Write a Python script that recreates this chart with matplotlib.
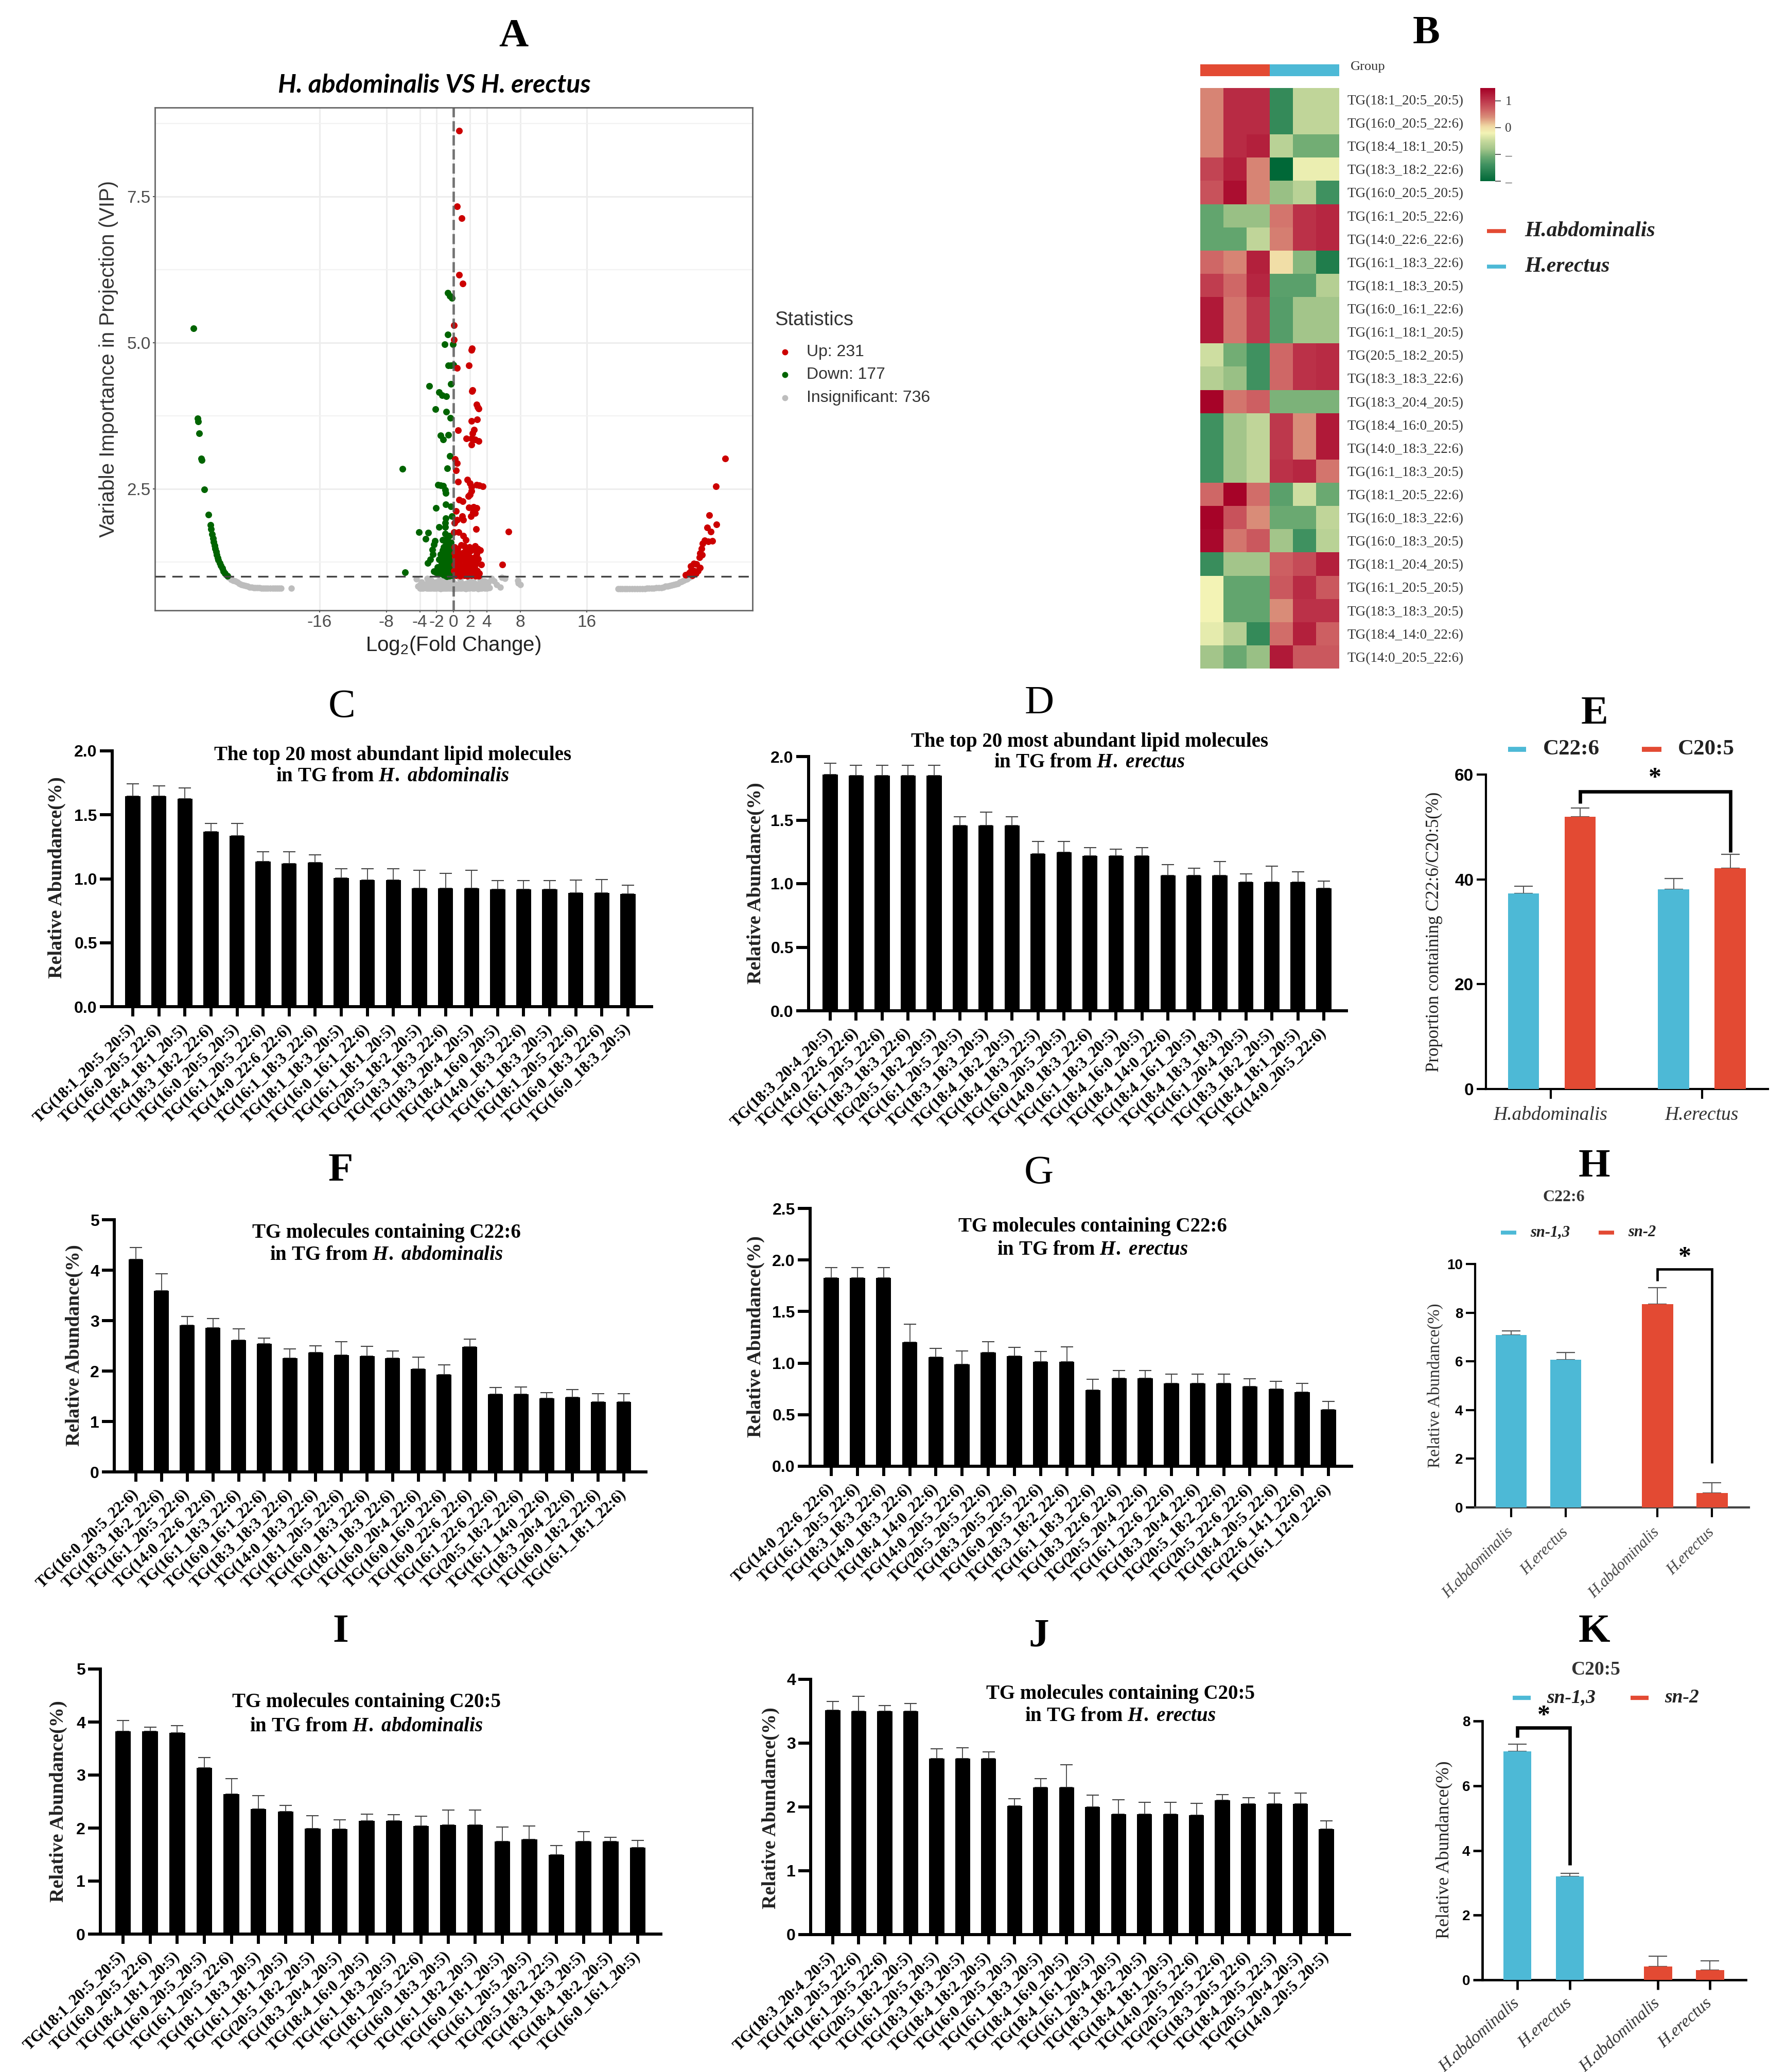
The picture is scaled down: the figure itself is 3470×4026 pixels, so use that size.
import numpy as np
import matplotlib
matplotlib.use("Agg")
import matplotlib.pyplot as plt
from matplotlib.colors import LinearSegmentedColormap
from matplotlib.lines import Line2D

W, H = 3470, 4026
SERIF = "Liberation Serif"
SANS = "Liberation Sans"
BLUE = "#4db9d6"
RED = "#e34a33"

plt.rcParams["font.family"] = SERIF
plt.rcParams["mathtext.fontset"] = "custom"
plt.rcParams["mathtext.default"] = "regular"
plt.rcParams["mathtext.it"] = "Liberation Serif:italic:bold"
plt.rcParams["mathtext.rm"] = "Liberation Serif:bold"

# ---- panel A: (log2 fold change, VIP)
down_pts = [
    (-31.1, 5.24), (-30.6, 3.70), (-30.5, 3.65), (-30.4, 3.45), (-30.15, 3.02), (-30.1, 2.99), (-29.8, 2.49),
    (-29.3, 2.06), (-29.05, 1.88), (-29.0, 1.81), (-28.85, 1.72), (-28.75, 1.65), (-28.65, 1.59), (-28.55, 1.53),
    (-28.5, 1.48), (-28.4, 1.42), (-28.3, 1.37), (-28.2, 1.32), (-28.1, 1.28), (-27.95, 1.23), (-27.8, 1.19),
    (-27.65, 1.14), (-27.5, 1.09), (-27.3, 1.05), (-27.0, 1.01),
    (-0.64, 5.85), (-0.43, 5.80), (-0.18, 5.76), (-0.64, 5.14), (-1.03, 4.97), (-0.04, 4.97), (-0.62, 4.61),
    (0.04, 4.62), (-0.27, 4.61), (-2.87, 4.26), (-0.27, 4.29), (-1.70, 4.15), (-1.33, 4.10), (-0.82, 4.08),
    (-2.11, 3.86), (-0.82, 3.82), (-0.33, 3.71), (-1.50, 3.41), (-0.57, 3.42), (-1.23, 3.34), (-0.39, 3.06),
    (-6.09, 2.84), (-0.72, 2.85), (-1.80, 2.57), (-1.50, 2.56), (-1.19, 2.55), (-0.94, 2.48), (-0.92, 2.43),
    (-2.09, 2.17), (-0.92, 2.23), (-0.27, 2.20), (-0.16, 2.03), (-0.88, 2.00), (-0.98, 1.92), (-0.94, 1.85),
    (-1.72, 1.85), (-4.12, 1.76), (-3.00, 1.75), (-3.32, 1.64), (-0.98, 1.73), (-0.47, 1.70), (-1.29, 1.63),
    (-2.17, 1.61), (-0.68, 1.58), (-2.32, 1.55), (-0.88, 1.54), (-0.30, 1.58), (-2.52, 1.46), (-2.42, 1.38),
    (-1.50, 1.38), (-0.98, 1.43), (-0.47, 1.41), (-1.30, 1.45), (-0.20, 1.47), (-2.73, 1.29), (-3.04, 1.23),
    (-1.70, 1.29), (-1.09, 1.31), (-0.47, 1.29), (-5.80, 1.07), (-2.32, 1.09), (-1.70, 1.11), (-1.90, 1.16),
    (-1.29, 1.18), (-0.68, 1.18), (-0.27, 1.13), (-0.88, 1.07), (-1.50, 1.05), (-0.27, 1.05), (-0.78, 1.00),
    (-1.10, 1.25), (-0.75, 1.27), (-0.15, 1.30), (-0.55, 1.12), (-1.05, 1.10), (-1.40, 1.22), (-0.35, 1.22),
    (-0.12, 1.18), (-2.05, 1.07), (-0.60, 1.05), (-1.15, 1.03), (-0.10, 1.02), (-0.15, 1.38), (-0.60, 1.36),
    (-1.25, 1.35), (-0.85, 1.34), (-0.30, 1.35), (-1.55, 1.30), (-1.30, 1.28), (-0.90, 1.21), (-0.20, 1.25),
    (-1.60, 1.17), (-1.10, 1.16), (-0.45, 1.16), (-0.80, 1.13), (-1.35, 1.09), (-0.40, 1.08), (-0.15, 1.10),
    (-1.75, 1.05), (-0.95, 1.02), (-0.45, 1.01), (-0.65, 1.47), (-1.15, 1.50), (-0.40, 1.52), (-0.70, 1.66),
]
up_pts = [
    (0.69, 8.62), (0.48, 7.33), (1.03, 7.13), (0.69, 6.16), (1.10, 6.01), (0.09, 5.30), (0.09, 5.05), (2.19, 4.87),
    (2.22, 4.90), (1.89, 4.61), (0.45, 4.57), (2.24, 4.17), (2.28, 4.19), (2.77, 3.94), (2.90, 3.90), (3.02, 3.87),
    (2.19, 3.66), (2.85, 3.69), (0.55, 3.50), (2.50, 3.51), (2.30, 3.45), (1.58, 3.36), (2.19, 3.36), (3.02, 3.32),
    (2.60, 3.34), (2.19, 3.25), (0.18, 3.01), (0.45, 2.94), (0.31, 2.81), (0.55, 2.62), (1.68, 2.66), (1.99, 2.59),
    (2.81, 2.57), (3.53, 2.54), (3.10, 2.56), (2.19, 2.53), (2.19, 2.46), (1.99, 2.40), (1.78, 2.37), (0.70, 2.31),
    (1.11, 2.29), (1.89, 2.18), (2.40, 2.19), (2.81, 2.17), (2.36, 2.10), (2.61, 2.08), (2.09, 2.03), (0.31, 2.12),
    (1.07, 2.03), (1.17, 1.97), (0.45, 1.97), (0.14, 1.92), (2.71, 1.81), (6.58, 1.77), (0.05, 1.76), (0.66, 1.76),
    (1.17, 1.70), (1.48, 1.63), (0.96, 1.54), (1.30, 1.52), (2.61, 1.52), (2.40, 1.47), (3.22, 1.45), (2.19, 1.45),
    (1.17, 1.41), (1.68, 1.38), (2.81, 1.38), (0.35, 1.36), (0.75, 1.40), (2.00, 1.33), (2.40, 1.32), (3.00, 1.30),
    (1.10, 1.30), (0.30, 1.28), (1.60, 1.27), (0.70, 1.25), (3.32, 1.20), (5.89, 1.20), (2.70, 1.22), (2.20, 1.20),
    (1.80, 1.18), (1.35, 1.20), (0.90, 1.18), (0.40, 1.18), (0.12, 1.20), (0.10, 1.10), (0.55, 1.08), (1.05, 1.10),
    (1.50, 1.08), (1.95, 1.10), (2.40, 1.08), (2.85, 1.10), (3.10, 1.05), (0.30, 1.02), (0.80, 1.01), (1.30, 1.02),
    (1.70, 1.01), (2.20, 1.02), (2.65, 1.01), (3.05, 1.01), (0.15, 1.40), (0.12, 1.50), (1.90, 1.50), (2.90, 1.48),
    (0.50, 1.48), (1.50, 1.45), (1.95, 1.42), (0.50, 1.30), (0.85, 1.33), (1.40, 1.33), (1.85, 1.28), (2.55, 1.26),
    (0.20, 1.33), (0.60, 1.17), (1.15, 1.14), (1.60, 1.14), (2.05, 1.15), (2.55, 1.15), (0.35, 1.12), (0.80, 1.05),
    (1.25, 1.06), (1.75, 1.06), (2.25, 1.06), (2.60, 1.05), (0.50, 1.04), (1.00, 1.03), (1.50, 1.03), (2.00, 1.03),
    (32.55, 3.02), (31.4, 2.54), (30.6, 2.05), (31.5, 1.89), (30.4, 1.84), (30.8, 1.77), (30.1, 1.62), (31.0, 1.61),
    (30.5, 1.60), (29.8, 1.56), (29.7, 1.48), (29.5, 1.40), (29.75, 1.37), (29.45, 1.33), (28.8, 1.22), (29.5, 1.15),
    (29.1, 1.21), (29.3, 1.10), (28.5, 1.11), (28.2, 1.06), (27.8, 1.03), (28.8, 1.10), (28.4, 1.18), (29.0, 1.05),
    (28.6, 1.02),
]
ns_pts = [
    (-26.9, 0.98), (-26.6, 0.95), (-26.35, 0.93), (-26.1, 0.92), (-25.85, 0.90), (-25.6, 0.88), (-25.35, 0.86),
    (-25.1, 0.85), (-24.85, 0.84), (-24.6, 0.83), (-24.35, 0.82), (-24.1, 0.82), (-23.9, 0.81), (-23.7, 0.81),
    (-23.45, 0.81), (-23.2, 0.81), (-22.95, 0.80), (-22.7, 0.80), (-22.45, 0.80), (-22.2, 0.80), (-21.9, 0.80),
    (-21.6, 0.80), (-21.35, 0.80), (-21.1, 0.80), (-20.85, 0.80), (-20.6, 0.80), (-19.4, 0.80),
    (19.7, 0.79), (19.95, 0.79), (20.2, 0.79), (20.5, 0.79), (20.8, 0.79), (21.1, 0.79), (21.4, 0.79), (21.7, 0.79),
    (22.0, 0.79), (22.3, 0.79), (22.6, 0.79), (22.9, 0.79), (23.2, 0.80), (23.45, 0.80), (23.7, 0.80), (24.0, 0.80),
    (24.3, 0.81), (24.6, 0.81), (24.9, 0.81), (25.15, 0.82), (25.4, 0.83), (25.65, 0.83), (25.9, 0.84), (26.15, 0.85),
    (26.4, 0.86), (26.65, 0.87), (26.9, 0.88), (27.1, 0.90), (27.3, 0.91), (27.55, 0.93), (27.8, 0.95), (28.0, 0.96),
    (28.2, 0.98), (28.5, 1.00),
    (-4.20, 0.83), (-3.80, 0.80), (-3.80, 0.90), (-3.40, 0.84), (-3.00, 0.80), (-2.70, 0.85), (-2.40, 0.80),
    (-2.10, 0.90), (-1.80, 0.82), (-1.50, 0.79), (-1.20, 0.86), (-0.90, 0.80), (-0.60, 0.90), (-0.30, 0.82),
    (0.00, 0.79), (0.30, 0.87), (0.60, 0.80), (0.90, 0.90), (1.20, 0.82), (1.50, 0.79), (1.80, 0.87), (2.10, 0.81),
    (2.40, 0.90), (2.70, 0.82), (3.00, 0.79), (3.30, 0.86), (3.60, 0.81), (3.90, 0.84), (4.20, 0.90), (4.60, 0.97),
    (4.90, 0.92), (5.20, 0.86), (5.60, 0.82), (5.80, 0.98), (7.80, 0.89), (7.70, 0.93), (8.00, 0.86), (6.20, 0.97),
    (-4.40, 0.96), (-3.10, 0.97), (-1.60, 0.96), (-0.70, 0.96), (0.80, 0.96), (1.90, 0.95), (3.20, 0.95), (-2.60, 0.93),
    (-4.00, 0.86), (2.60, 0.86), (1.00, 0.84), (-1.10, 0.92), (-0.10, 0.92), (3.70, 0.92),
    (-4.00, 0.80), (-3.60, 0.80), (-3.20, 0.80), (-2.80, 0.80), (-2.60, 0.80), (-2.20, 0.80), (-2.00, 0.80),
    (-1.70, 0.80), (-1.30, 0.80), (-1.10, 0.80), (-0.70, 0.80), (-0.50, 0.80), (-0.20, 0.80), (0.20, 0.80),
    (0.40, 0.80), (0.80, 0.80), (1.00, 0.80), (1.30, 0.80), (1.70, 0.80), (1.90, 0.80), (2.30, 0.80), (2.50, 0.80),
    (2.90, 0.80), (3.20, 0.80), (3.40, 0.80), (3.80, 0.80), (4.00, 0.80), (4.30, 0.81),
    (-3.20, 0.88), (-2.90, 0.88), (-2.30, 0.86), (-1.90, 0.87), (-1.40, 0.86), (-0.80, 0.86), (-0.40, 0.87),
    (0.10, 0.85), (0.60, 0.86), (1.30, 0.87), (1.50, 0.88), (2.20, 0.87), (2.80, 0.87), (3.50, 0.87), (4.10, 0.85),
]
volcano_xticks = [-16, -8, -4, -2, 0, 2, 4, 8, 16]
volcano_yticks = [2.5, 5.0, 7.5]
volcano_yminor = [1.25, 3.75, 6.25, 8.75]

# ---- panel B
heat_labels = [
    "TG(18:1_20:5_20:5)", "TG(16:0_20:5_22:6)", "TG(18:4_18:1_20:5)", "TG(18:3_18:2_22:6)", "TG(16:0_20:5_20:5)",
    "TG(16:1_20:5_22:6)", "TG(14:0_22:6_22:6)", "TG(16:1_18:3_22:6)", "TG(18:1_18:3_20:5)", "TG(16:0_16:1_22:6)",
    "TG(16:1_18:1_20:5)", "TG(20:5_18:2_20:5)", "TG(18:3_18:3_22:6)", "TG(18:3_20:4_20:5)", "TG(18:4_16:0_20:5)",
    "TG(14:0_18:3_22:6)", "TG(16:1_18:3_20:5)", "TG(18:1_20:5_22:6)", "TG(16:0_18:3_22:6)", "TG(16:0_18:3_20:5)",
    "TG(18:1_20:4_20:5)", "TG(16:1_20:5_20:5)", "TG(18:3_18:3_20:5)", "TG(18:4_14:0_22:6)", "TG(14:0_20:5_22:6)",
]
heat_vals = [
    [0.45, 1.10, 1.10, -1.50, -0.55, -0.55],
    [0.45, 1.10, 1.10, -1.50, -0.55, -0.55],
    [0.45, 1.10, 1.20, -0.60, -1.05, -1.05],
    [0.90, 1.20, 0.45, -2.00, -0.25, -0.25],
    [0.80, 1.35, 0.45, -0.85, -0.60, -1.40],
    [-1.15, -0.85, -0.85, 0.55, 1.05, 1.15],
    [-1.15, -1.15, -0.55, 0.50, 1.05, 1.15],
    [0.65, 0.45, 1.20, 0.00, -0.95, -1.70],
    [0.95, 0.65, 1.15, -1.20, -1.20, -0.65],
    [1.25, 0.55, 1.00, -1.25, -0.80, -0.80],
    [1.25, 0.55, 1.00, -1.25, -0.80, -0.80],
    [-0.45, -1.05, -1.40, 0.65, 1.05, 1.10],
    [-0.65, -0.85, -1.40, 0.65, 1.05, 1.10],
    [1.45, 0.55, 0.70, -1.00, -1.00, -1.00],
    [-1.40, -0.80, -0.55, 1.00, 0.40, 1.25],
    [-1.40, -0.80, -0.55, 1.00, 0.40, 1.25],
    [-1.40, -0.80, -0.55, 1.05, 1.15, 0.55],
    [0.65, 1.45, 0.60, -1.20, -0.45, -1.10],
    [1.45, 0.80, 0.40, -1.10, -1.10, -0.55],
    [1.40, 0.55, 0.75, -0.80, -1.40, -0.60],
    [-1.45, -0.80, -0.80, 0.70, 0.85, 1.20],
    [-0.20, -1.15, -1.15, 0.75, 1.10, 0.75],
    [-0.20, -1.15, -1.15, 0.40, 1.05, 1.05],
    [-0.30, -0.65, -1.50, 0.60, 1.20, 0.70],
    [-0.80, -1.10, -0.85, 1.25, 0.75, 0.75],
]

# ---- bar panels: bar height and top of the error bar
c_labels = ["TG(18:1_20:5_20:5)", "TG(16:0_20:5_22:6)", "TG(18:4_18:1_20:5)", "TG(18:3_18:2_22:6)", "TG(16:0_20:5_20:5)",
            "TG(16:1_20:5_22:6)", "TG(14:0_22:6_22:6)", "TG(16:1_18:3_22:6)", "TG(18:1_18:3_20:5)", "TG(16:0_16:1_22:6)",
            "TG(16:1_18:1_20:5)", "TG(20:5_18:2_20:5)", "TG(18:3_18:3_22:6)", "TG(18:3_20:4_20:5)", "TG(18:4_16:0_20:5)",
            "TG(14:0_18:3_22:6)", "TG(16:1_18:3_20:5)", "TG(18:1_20:5_22:6)", "TG(16:0_18:3_22:6)", "TG(16:0_18:3_20:5)"]
c_vals = [1.645, 1.645, 1.625, 1.37, 1.335, 1.135, 1.117, 1.125, 1.007, 0.99,
          0.99, 0.925, 0.925, 0.925, 0.918, 0.918, 0.918, 0.889, 0.889, 0.882]
c_tops = [1.743, 1.727, 1.711, 1.431, 1.431, 1.21, 1.212, 1.187, 1.079, 1.079,
          1.079, 1.068, 1.043, 1.068, 0.986, 0.986, 0.986, 0.988, 0.995, 0.95]

d_labels = ["TG(18:3_20:4_20:5)", "TG(14:0_22:6_22:6)", "TG(16:1_20:5_22:6)", "TG(18:3_18:3_22:6)", "TG(20:5_18:2_20:5)",
            "TG(16:1_20:5_20:5)", "TG(18:3_18:3_20:5)", "TG(18:4_18:2_20:5)", "TG(18:4_18:3_22:5)", "TG(16:0_20:5_20:5)",
            "TG(14:0_18:3_22:6)", "TG(16:1_18:3_20:5)", "TG(18:4_16:0_20:5)", "TG(18:4_14:0_22:6)", "TG(18:4_16:1_20:5)",
            "TG(18:4_18:3_18:3)", "TG(16:1_20:4_20:5)", "TG(18:3_18:2_20:5)", "TG(18:4_18:1_20:5)", "TG(14:0_20:5_22:6)"]
d_vals = [1.857, 1.85, 1.85, 1.85, 1.85, 1.459, 1.459, 1.459, 1.236, 1.248,
          1.218, 1.218, 1.218, 1.066, 1.066, 1.066, 1.011, 1.011, 1.011, 0.964]
d_tops = [1.948, 1.932, 1.932, 1.932, 1.932, 1.527, 1.561, 1.527, 1.332, 1.332,
          1.282, 1.27, 1.282, 1.148, 1.123, 1.175, 1.077, 1.136, 1.095, 1.02]

f_labels = ["TG(16:0_20:5_22:6)", "TG(18:3_18:2_22:6)", "TG(16:1_20:5_22:6)", "TG(14:0_22:6_22:6)", "TG(16:1_18:3_22:6)",
            "TG(16:0_16:1_22:6)", "TG(18:3_18:3_22:6)", "TG(14:0_18:3_22:6)", "TG(18:1_20:5_22:6)", "TG(16:0_18:3_22:6)",
            "TG(18:1_18:3_22:6)", "TG(16:0_20:4_22:6)", "TG(16:0_16:0_22:6)", "TG(16:0_22:6_22:6)", "TG(16:1_22:6_22:6)",
            "TG(20:5_18:2_22:6)", "TG(16:1_14:0_22:6)", "TG(18:3_20:4_22:6)", "TG(16:0_18:2_22:6)", "TG(16:1_18:1_22:6)"]
f_vals = [4.218, 3.587, 2.905, 2.86, 2.615, 2.542, 2.251, 2.363, 2.318, 2.291,
          2.251, 2.045, 1.933, 2.475, 1.542, 1.542, 1.458, 1.475, 1.385, 1.385]
f_tops = [4.447, 3.933, 3.078, 3.039, 2.838, 2.648, 2.441, 2.503, 2.581, 2.486,
          2.397, 2.279, 2.123, 2.637, 1.67, 1.687, 1.57, 1.637, 1.547, 1.547]

g_labels = ["TG(14:0_22:6_22:6)", "TG(16:1_20:5_22:6)", "TG(18:3_18:3_22:6)", "TG(14:0_18:3_22:6)", "TG(18:4_14:0_22:6)",
            "TG(14:0_20:5_22:6)", "TG(20:5_20:5_22:6)", "TG(18:3_20:5_22:6)", "TG(16:0_20:5_22:6)", "TG(18:3_18:2_22:6)",
            "TG(16:1_18:3_22:6)", "TG(18:3_22:6_22:6)", "TG(20:5_20:4_22:6)", "TG(16:1_22:6_22:6)", "TG(18:3_20:4_22:6)",
            "TG(20:5_18:2_22:6)", "TG(20:5_22:6_22:6)", "TG(18:4_20:5_22:6)", "TG(22:6_14:1_22:6)", "TG(16:1_12:0_22:6)"]
g_vals = [1.827, 1.827, 1.827, 1.205, 1.058, 0.989, 1.101, 1.068, 1.011, 1.011,
          0.74, 0.852, 0.852, 0.805, 0.805, 0.805, 0.775, 0.748, 0.718, 0.548]
g_tops = [1.926, 1.926, 1.926, 1.378, 1.142, 1.118, 1.208, 1.151, 1.112, 1.156,
          0.844, 0.929, 0.929, 0.893, 0.893, 0.893, 0.849, 0.822, 0.803, 0.63]

i_labels = ["TG(18:1_20:5_20:5)", "TG(16:0_20:5_22:6)", "TG(18:4_18:1_20:5)", "TG(16:0_20:5_20:5)", "TG(16:1_20:5_22:6)",
            "TG(18:1_18:3_20:5)", "TG(16:1_18:1_20:5)", "TG(20:5_18:2_20:5)", "TG(18:3_20:4_20:5)", "TG(18:4_16:0_20:5)",
            "TG(16:1_18:3_20:5)", "TG(18:1_20:5_22:6)", "TG(16:0_18:3_20:5)", "TG(16:1_18:2_20:5)", "TG(16:0_18:1_20:5)",
            "TG(16:1_20:5_20:5)", "TG(20:5_18:2_22:5)", "TG(18:3_18:3_20:5)", "TG(18:4_18:2_20:5)", "TG(16:0_16:1_20:5)"]
i_vals = [3.821, 3.821, 3.794, 3.135, 2.637, 2.358, 2.315, 1.994, 1.977, 2.133,
          2.133, 2.036, 2.063, 2.063, 1.747, 1.79, 1.495, 1.747, 1.747, 1.629]
i_tops = [4.025, 3.907, 3.934, 3.328, 2.931, 2.615, 2.428, 2.235, 2.16, 2.262,
          2.251, 2.219, 2.337, 2.337, 2.015, 2.042, 1.667, 1.935, 1.827, 1.763]

j_labels = ["TG(18:3_20:4_20:5)", "TG(14:0_20:5_22:6)", "TG(16:1_20:5_22:6)", "TG(20:5_18:2_20:5)", "TG(16:1_20:5_20:5)",
            "TG(18:3_18:3_20:5)", "TG(18:4_18:2_20:5)", "TG(16:0_20:5_20:5)", "TG(16:1_18:3_20:5)", "TG(18:4_16:0_20:5)",
            "TG(18:4_16:1_20:5)", "TG(16:1_20:4_20:5)", "TG(18:3_18:2_20:5)", "TG(18:4_18:1_20:5)", "TG(14:0_20:5_22:6)",
            "TG(20:5_20:5_22:6)", "TG(18:3_20:5_22:6)", "TG(18:4_20:5_22:5)", "TG(20:5_20:4_20:5)", "TG(14:0_20:5_20:5)"]
j_vals = [3.519, 3.501, 3.501, 3.501, 2.757, 2.757, 2.757, 2.013, 2.303, 2.303,
          1.996, 1.884, 1.884, 1.884, 1.871, 2.102, 2.049, 2.049, 2.049, 1.653]
j_tops = [3.653, 3.737, 3.59, 3.621, 2.913, 2.931, 2.86, 2.129, 2.441, 2.664,
          2.187, 2.116, 2.071, 2.076, 2.058, 2.196, 2.147, 2.218, 2.218, 1.782]

e_vals = [37.3, 51.9, 38.1, 42.1]
e_tops = [38.7, 53.6, 40.2, 44.8]
h_vals = [7.09, 6.07, 8.36, 0.60]
h_tops = [7.25, 6.37, 9.03, 1.02]
k_vals = [7.06, 3.20, 0.41, 0.31]
k_tops = [7.28, 3.29, 0.73, 0.59]
species = ["H.abdominalis", "H.erectus"]

fig = plt.figure(figsize=(W / 100, H / 100), dpi=100, facecolor="white")


def px_ax(left, top, right, bottom):
    return fig.add_axes([left / W, 1 - bottom / H, (right - left) / W, (bottom - top) / H])


def put(x, y, s, **kw):
    kw.setdefault("ha", "center")
    kw.setdefault("va", "center")
    return fig.text(x / W, 1 - y / H, s, **kw)


def dash(x0, x1, y, color, lw=5.5):
    fig.add_artist(Line2D([x0 / W, x1 / W], [1 - y / H, 1 - y / H], color=color, lw=lw,
                          solid_capstyle="butt", transform=fig.transFigure))


def lipid_panel(rect, c0, c19, ymax, yticks, fmt, labels, vals, tops, title, title_xy, ylab_xy):
    left, top, right, bottom = rect
    ax = px_ax(*rect)
    unit = (c19 - c0) / 19
    pos = np.arange(20)
    ax.bar(pos, vals, width=0.58, color="black", zorder=3)
    upper = np.array(tops) - np.array(vals)
    ax.errorbar(pos, vals, yerr=[np.zeros(20), upper], fmt="none", ecolor="#444444",
                elinewidth=1.3, capsize=8.5, capthick=1.5, zorder=2)
    ax.set_xlim((left - c0) / unit, (right - c0) / unit)
    ax.set_ylim(0, ymax)
    for s in ["top", "right"]:
        ax.spines[s].set_visible(False)
    for s in ["left", "bottom"]:
        ax.spines[s].set_linewidth(4.3)
    ax.set_yticks(yticks)
    ax.set_yticklabels([fmt % v for v in yticks], family=SANS, weight="bold", fontsize=23)
    ax.tick_params(axis="y", length=17, width=4.3, pad=4)
    ax.set_xticks(pos)
    ax.set_xticklabels(labels, rotation=44, ha="right", va="center", rotation_mode="anchor",
                       weight="bold", fontsize=22)
    ax.tick_params(axis="x", length=14, width=4.3, pad=14)
    put(title_xy[0], title_xy[1] + 2, title[0], weight="bold", fontsize=28)
    put(title_xy[0], title_xy[2] + 2, title[1], weight="bold", fontsize=28)
    put(ylab_xy[0], ylab_xy[1], "Relative Abundance(%)", rotation=90, weight="bold", fontsize=27.5, color="#222222")
    return ax


def group_panel(rect, pos, unit, x0px, width, vals, tops, colors, ymax, yticks, tick_fs, lw):
    left, top, right, bottom = rect
    ax = px_ax(*rect)
    ax.bar(pos, vals, width=width, color=colors, zorder=3)
    upper = np.array(tops) - np.array(vals)
    ax.errorbar(pos, vals, yerr=[np.zeros(4), upper], fmt="none", ecolor="#555555",
                elinewidth=1.4, capsize=13, capthick=1.6, zorder=2)
    ax.set_xlim((left - x0px) / unit, (right - x0px) / unit)
    ax.set_ylim(0, ymax)
    for s in ["top", "right"]:
        ax.spines[s].set_visible(False)
    for s in ["left", "bottom"]:
        ax.spines[s].set_linewidth(lw)
    ax.set_yticks(yticks)
    ax.set_yticklabels([str(v) for v in yticks], family=SANS, weight="bold", fontsize=tick_fs)
    ax.tick_params(axis="y", length=13, width=lw, pad=4)
    ax.tick_params(axis="x", length=14, width=lw)
    return ax


def bracket(ax, x0, x1, y0, ytop, y1, star_y, lw=4.8):
    ax.plot([x0, x0, x1, x1], [y0, ytop, ytop, y1], color="black", lw=lw, clip_on=False,
            solid_joinstyle="miter", solid_capstyle="butt", zorder=5)
    ax.text((x0 + x1) / 2, star_y, "*", ha="center", va="center", fontsize=36, weight="bold", clip_on=False)


# panel letters
for letter, lx, ly, wt in [("A", 998, 71, "bold"), ("B", 2771, 65, "bold"), ("C", 664, 1374, "normal"),
                           ("D", 2019, 1367, "normal"), ("E", 3098, 1387, "bold"), ("F", 662, 2276, "bold"),
                           ("G", 2018, 2280, "normal"), ("H", 3097, 2268, "bold"), ("I", 662, 3172, "bold"),
                           ("J", 2018, 3180, "bold"), ("K", 3097, 3172, "bold")]:
    put(lx, ly, letter, fontsize=57, weight=wt)

# A
ax = px_ax(301, 209, 1462, 1186)
ax.set_xlim(-35.7, 35.8)
ax.set_ylim(0.42, 9.02)
ns = np.array(ns_pts)
up = np.array(up_pts)
down = np.array(down_pts)
ax.scatter(ns[:, 0], ns[:, 1], s=80, color="#bdbdbd", linewidths=0, zorder=2)
ax.scatter(down[:, 0], down[:, 1], s=88, color="#006400", linewidths=0, zorder=3)
ax.scatter(up[:, 0], up[:, 1], s=88, color="#cc0000", linewidths=0, zorder=3)
ax.axvline(0, color="#555555", lw=3.4, ls=(0, (4.2, 1.6)), alpha=0.8, zorder=4)
ax.axhline(1, color="#444444", lw=2.4, ls=(0, (6, 4)), zorder=4)
ax.set_xticks(volcano_xticks)
ax.set_yticks(volcano_yticks)
ax.set_yticks(volcano_yminor, minor=True)
ax.grid(True, which="major", color="#ededed", lw=2.2, zorder=0)
ax.grid(True, which="minor", axis="y", color="#f2f2f2", lw=1.6, zorder=0)
ax.set_axisbelow(True)
ax.set_xticklabels([str(v) for v in volcano_xticks], family=SANS, fontsize=24, color="#4d4d4d")
ax.set_yticklabels(["2.5", "5.0", "7.5"], family=SANS, fontsize=24, color="#4d4d4d")
ax.tick_params(which="major", length=3, width=1.5, color="#555555", pad=3)
ax.tick_params(which="minor", length=0)
for s in ax.spines.values():
    s.set_color("#666666")
    s.set_linewidth(2)
put(844, 166, "H. abdominalis VS H. erectus", family="Lato", weight="bold", style="italic", fontsize=36)
put(211, 697, "Variable Importance in Projection (VIP)", rotation=90, family=SANS, fontsize=29, color="#333333")
put(881, 1254, r"Log$_{2}$(Fold Change)", family=SANS, fontsize=29, color="#222222")
put(1505, 622, "Statistics", family=SANS, fontsize=27.5, color="#333333", ha="left")
for txt, col, yy in [("Up: 231", "#cc0000", 684), ("Down: 177", "#006400", 728), ("Insignificant: 736", "#bdbdbd", 773)]:
    fig.add_artist(Line2D([1525 / W], [1 - yy / H], marker="o", ms=8.5, color=col, mew=0, transform=fig.transFigure))
    put(1567, yy, txt, family=SANS, fontsize=23, color="#333333", ha="left")

# B
heat_cmap = LinearSegmentedColormap.from_list("heat", [
    (0.0, "#006837"), (0.172, "#3f9160"), (0.259, "#6aa971"), (0.345, "#a3c58a"), (0.431, "#c6d99c"),
    (0.517, "#f3f3b5"), (0.589, "#f0d9a4"), (0.690, "#d98c78"), (0.776, "#cd5f62"), (0.876, "#bb3249"),
    (1.0, "#a50026")])
ax = px_ax(2332, 171, 2602, 1299)
mesh = ax.pcolormesh(np.array(heat_vals)[::-1], cmap=heat_cmap, vmin=-2, vmax=1.48)
ax.set_xticks([])
ax.set_yticks(np.arange(25) + 0.5)
ax.set_yticklabels(heat_labels[::-1], fontsize=19.5, color="#333333")
ax.yaxis.tick_right()
ax.tick_params(axis="y", length=0, pad=11)
for s in ax.spines.values():
    s.set_visible(False)

ax = px_ax(2332, 125, 2602, 148)
ax.barh([0, 0], [1, 1], left=[0, 1], height=1, color=[RED, BLUE])
ax.set_xlim(0, 2)
ax.set_ylim(-0.5, 0.5)
ax.axis("off")
put(2624, 130, "Group", fontsize=19, color="#333333", ha="left")

cax = px_ax(2876, 171, 2905, 352)
cb = fig.colorbar(mesh, cax=cax, ticks=[1, 0, -1, -2])
cb.ax.set_yticklabels(["1", "0", "–", "–"], fontsize=18, color="#333333")
cb.ax.tick_params(length=8, width=1.2, color="#444444", pad=6)
cb.outline.set_visible(False)

dash(2889, 2926, 449, RED)
dash(2889, 2926, 518, BLUE)
put(2962, 449, "H.abdominalis", weight="bold", style="italic", fontsize=30, ha="left", color="#222222")
put(2962, 518, "H.erectus", weight="bold", style="italic", fontsize=30, ha="left", color="#222222")

# C, D, F, G, I, J
lipid_panel((218, 1459, 1266, 1956), 258, 1220, 2.0, [0.0, 0.5, 1.0, 1.5, 2.0], "%.1f", c_labels, c_vals, c_tops,
            ("The top 20 most abundant lipid molecules", r"in TG from $\mathit{H.\ abdominalis}$"),
            (763, 1465, 1507), (110, 1705))
lipid_panel((1571, 1470, 2616, 1964), 1613, 2572, 2.0, [0.0, 0.5, 1.0, 1.5, 2.0], "%.1f", d_labels, d_vals, d_tops,
            ("The top 20 most abundant lipid molecules", r"in TG from $\mathit{H.\ erectus}$"),
            (2117, 1439, 1480), (1468, 1716))
lipid_panel((222, 2370, 1255, 2860), 264, 1212, 5, [0, 1, 2, 3, 4, 5], "%d", f_labels, f_vals, f_tops,
            ("TG molecules containing C22:6", r"in TG from $\mathit{H.\ abdominalis}$"),
            (751, 2393, 2437), (144, 2614))
lipid_panel((1574, 2348, 2626, 2849), 1615, 2581, 2.5, [0.0, 0.5, 1.0, 1.5, 2.0, 2.5], "%.1f", g_labels, g_vals, g_tops,
            ("TG molecules containing C22:6", r"in TG from $\mathit{H.\ erectus}$"),
            (2123, 2382, 2427), (1468, 2597))
lipid_panel((195, 3243, 1284, 3758), 239, 1239, 5, [0, 1, 2, 3, 4, 5], "%d", i_labels, i_vals, i_tops,
            ("TG molecules containing C20:5", r"in TG from $\mathit{H.\ abdominalis}$"),
            (712, 3306, 3352), (113, 3500))
lipid_panel((1575, 3263, 2622, 3759), 1618, 2577, 4, [0, 1, 2, 3, 4], "%d", j_labels, j_vals, j_tops,
            ("TG molecules containing C20:5", r"in TG from $\mathit{H.\ erectus}$"),
            (2177, 3290, 3332), (1497, 3513))

# E
ax = group_panel((2887, 1505, 3435, 2116), [0, 1, 2.65, 3.65], 110, 2960, 0.55, e_vals, e_tops,
                 [BLUE, RED, BLUE, RED], 60, [0, 20, 40, 60], 24, 3)
ax.set_xticks([0.48, 3.15])
ax.set_xticklabels(species, style="italic", fontsize=27, color="#333333")
ax.tick_params(axis="x", pad=10)
bracket(ax, 1, 3.65, 54.5, 56.8, 45.2, 59.2)
put(2786, 1811, "Proportion containing C22:6/C20:5(%)", rotation=90, fontsize=25, color="#222222")
dash(2930, 2965, 1456, BLUE, lw=7)
dash(3190, 3228, 1456, RED, lw=7)
put(3053, 1456, "C22:6", weight="bold", fontsize=31, color="#222222")
put(3315, 1456, "C20:5", weight="bold", fontsize=31, color="#222222")

# H
ax = group_panel((2866, 2456, 3398, 2929), [0, 1, 2.68, 3.68], 106, 2936, 0.575, h_vals, h_tops,
                 [BLUE, BLUE, RED, RED], 10, [0, 2, 4, 6, 8, 10], 20, 3)
ax.spines["bottom"].set_color("#444444")
ax.set_xticks([0, 1, 2.68, 3.68])
ax.set_xticklabels(species * 2, rotation=45, ha="right", va="center", rotation_mode="anchor",
                   style="italic", fontsize=22, color="#444444")
ax.tick_params(axis="x", pad=18)
bracket(ax, 2.68, 3.68, 9.31, 9.79, 1.81, 10.25, lw=3.4)
put(2788, 2692, "Relative Abundance(%)", rotation=90, fontsize=24, color="#333333")
put(3038, 2326, "C22:6", weight="bold", fontsize=23, color="#333333")
dash(2916, 2946, 2395, BLUE)
dash(3106, 3136, 2395, RED)
put(3012, 2395, "sn-1,3", weight="bold", style="italic", fontsize=22, color="#222222")
put(3190, 2395, "sn-2", weight="bold", style="italic", fontsize=22, color="#222222")

# K
ax = group_panel((2880, 3344, 3392, 3847), [0, 1, 2.68, 3.67], 102, 2948, 0.535, k_vals, k_tops,
                 [BLUE, BLUE, RED, RED], 8, [0, 2, 4, 6, 8], 20, 3.4)
ax.set_xticks([0, 1, 2.68, 3.67])
ax.set_xticklabels(species * 2, rotation=42, ha="right", va="center", rotation_mode="anchor",
                   style="italic", fontsize=24, color="#333333")
ax.tick_params(axis="x", pad=16)
bracket(ax, 0, 1, 7.49, 7.8, 3.55, 8.15)
put(2807, 3594, "Relative Abundance(%)", rotation=90, fontsize=26, color="#222222")
put(3100, 3245, "C20:5", weight="bold", fontsize=27, color="#333333")
dash(2939, 2974, 3299, BLUE, lw=6)
dash(3168, 3203, 3299, RED, lw=6)
put(3053, 3299, "sn-1,3", weight="bold", style="italic", fontsize=27, color="#222222")
put(3268, 3299, "sn-2", weight="bold", style="italic", fontsize=27, color="#222222")

fig.savefig("out.png", dpi=100)
